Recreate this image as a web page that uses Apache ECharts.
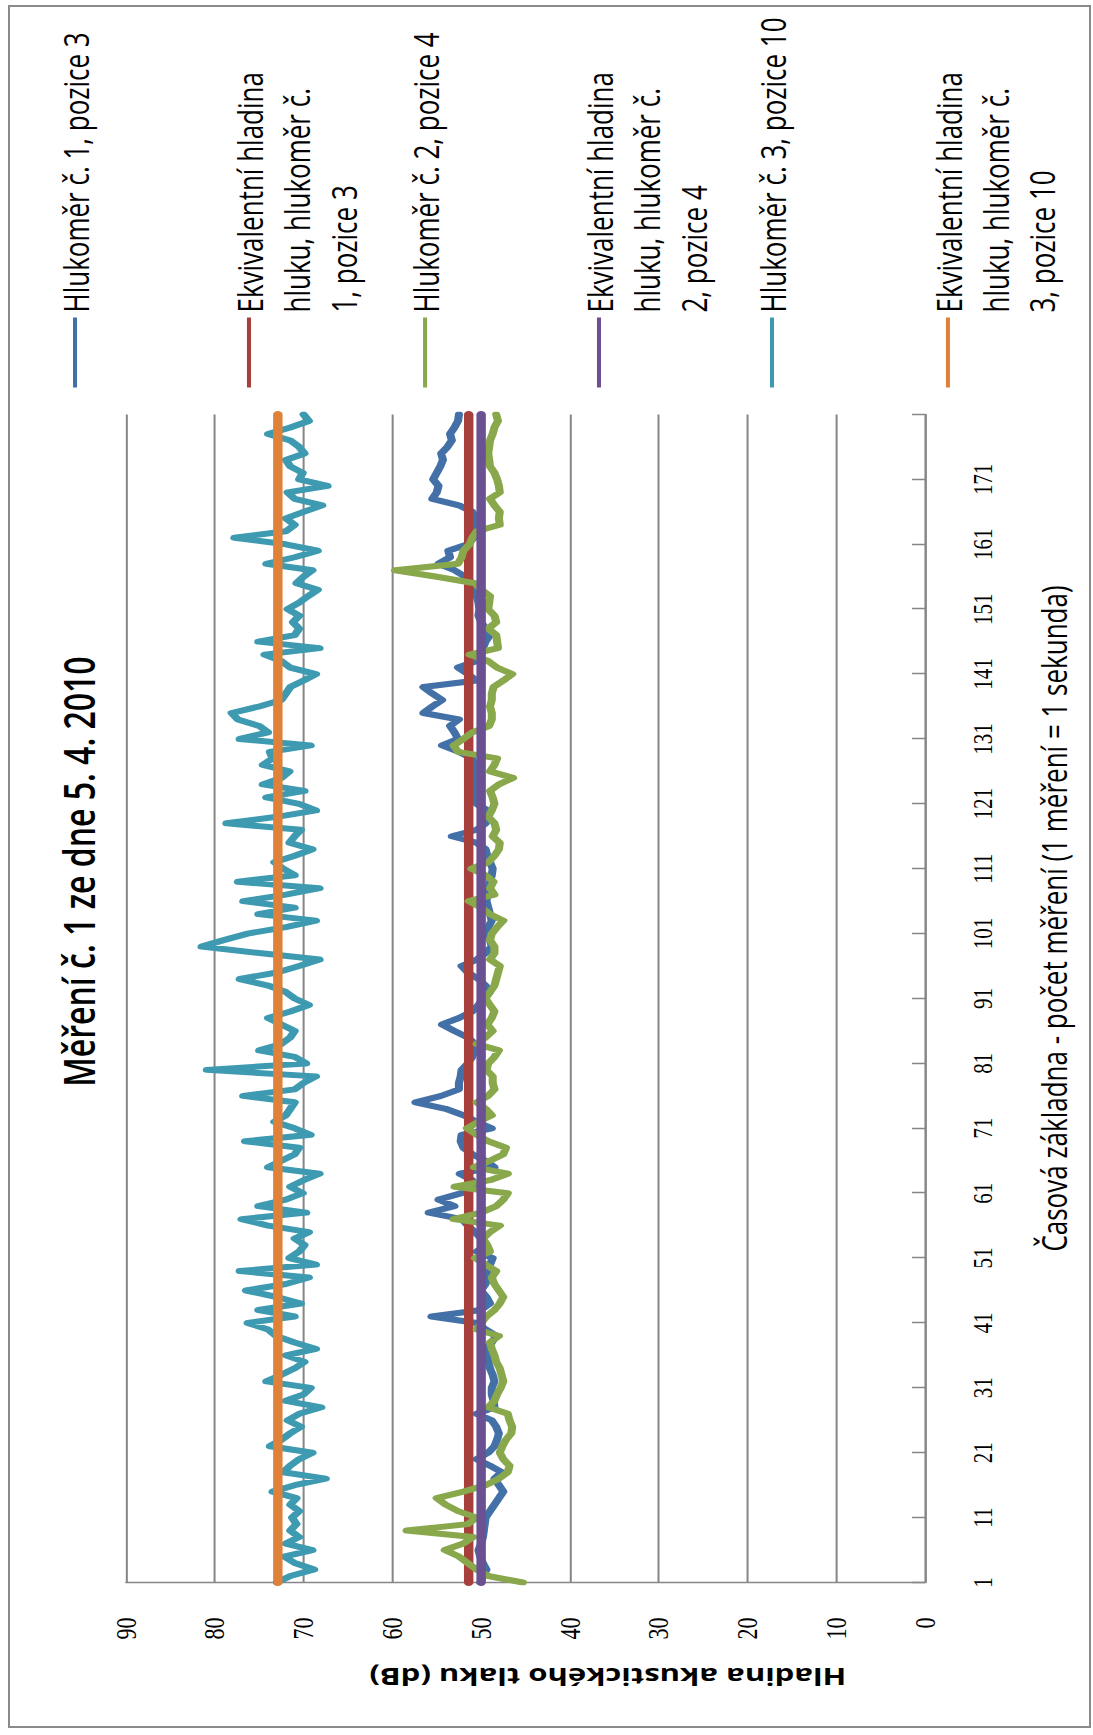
<!DOCTYPE html>
<html>
<head>
<meta charset="utf-8">
<script src="https://cdn.jsdelivr.net/npm/echarts@6/dist/echarts.min.js"></script>
<style>
html,body{margin:0;padding:0;background:#fff;overflow:hidden;width:1093px;height:1735px;}
#frame{position:absolute;left:8px;top:5px;width:1079px;height:1719px;border:2px solid #8a8a8a;z-index:5;pointer-events:none;background:transparent;}
#chart{position:absolute;left:-321px;top:462.5px;width:1735px;height:810px;transform-origin:50% 50%;transform:rotate(-90deg) scaleY(1.34938);z-index:1;}
</style>
</head>
<body>
<div id="chart"></div>
<div id="frame"></div>
<script>
// ---- data ----
const categories = Array.from({length: 181}, (_, i) => String(i + 1));

const hlukomer1 = [
 50.1,49.8,49.4,49.8,50.1,50.3,50,49.8,49.7,49.6,49.5,49,48.5,48,47.5,48,48.5,47.7,49,50.5,
 49.2,48.5,48.2,48,48.3,48.8,50.5,48.5,48.6,48.8,48.8,48.5,48.7,49,49.2,49.3,49.4,48.8,48.3,49.5,
 50.5,55.6,50,49,49.4,50,
 49.5,49.3,49.2,49,48.7,50.5,49.5,50,50.7,51.5,52.2,55.9,53,54.8,52.2,50.7,51,52.4,48.5,49.5,
 51,52,52.3,52.2,48.8,50.5,52,54,57.4,54.5,52.5,52.5,52.3,52.2,51.5,51,50.8,50.7,51.5,53,
 54.4,52.5,51,50.3,
 49.8,49,49.5,50.3,51.5,52.2,50.5,49.5,48.8,49,49.3,49.2,48.8,49,49.2,49.4,49.3,49.2,49,48.8,
 48.7,49,49.3,49.5,50.5,53.3,50.5,49.5,49.2,49.3,50.5,50.6,50.7,50.7,50.6,50.7,50.8,51,52.5,54.4,
 52.6,53,53.5,52.5,
 56.5,55.5,54.4,55.5,56.5,50.5,51.5,52.6,50.5,50,49.8,49.5,49,49.5,50,50.3,50.2,50.3,50.5,50.6,
 51,51.8,53,54.8,53.5,53.7,51.5,50.8,50.5,50.5,50.6,51,52.5,55.5,55,54.8,55.4,55,54.6,54.3,
 54.5,53.8,53.3,53.5,53,52.6,52.5
];
const hlukomer2 = [
 45.3,49.2,50.5,51.5,52.5,54.1,52,50.9,58.4,51.5,50.5,52.6,54,55,52,49.5,48,47,46.8,47.5,
 47.9,47.6,47.2,46.6,46.5,46.8,47,49.2,48.5,48.2,47.8,47.5,47.7,47.9,48.3,48.5,48.8,49,48,50.5,
 50,49.4,48.5,47.9,47.5,48,
 48.5,48.8,48.3,49.5,50.7,49,49.3,49.8,49,47.9,53.1,50,48.3,47.5,47,53,49,47,50.8,49,
 47.5,47.2,49.2,50.5,51.6,50.3,48.8,49.5,50.5,49.2,48.5,48.7,48.7,49.4,49.2,48.5,48,50.5,49.5,48.7,
 49.3,48.8,48.5,49,
 49.5,49,48.5,48.3,48.1,47.9,49,48.5,48.5,49,48.8,48.2,47.5,49,50,51.4,48.5,49,48.6,49.5,
 51.1,49.2,48.5,48,47.9,48.7,48.3,48.5,49.2,48.8,48.5,48.7,49,48,46.4,49,48.5,48.2,52.6,53.1,
 52,51,49.1,48.8,
 48.8,49,48.8,48.8,48.6,47.5,46.5,48.2,49.2,51.3,48.1,48.2,48.3,49.2,48.3,48.5,49.2,49.1,49,50,
 50.7,55,59.7,52.6,52.2,52,51.3,51,50.5,47.9,48,47.9,48.5,49,47.9,48,48.2,48.5,49,49.1,
 49.2,49.1,49,48.7,48.5,48.1,48.3
];
const hlukomer3 = [
 73,71.5,68.8,71,72.2,69,72,70.5,71.5,70.8,71.3,70.5,71.5,70.8,73.5,71,67.5,72.3,71.5,70.5,
 69,73.8,72.5,71.5,70.3,71.8,70.5,68,72,70,69.2,74.2,72.5,71,69.9,72,68.6,71,73.1,74,
 76.3,71,75.1,70.3,73,76.5,
 72,69.4,77.2,68.6,71.6,70.5,69.9,71,69.4,74,77,69.7,75.1,72,70.1,71.5,70,68.2,74,72.5,
 71,70.5,76.6,69.2,71,73.3,72,71.5,71,76.8,71,70,68.6,80.9,69.7,71,75,72.5,71.5,71,
 72.5,74,71.5,69.4,
 71,72,74,77.2,73,70.5,68.2,75,81.5,79,76.3,72,68.6,75.1,71,76.8,72,68.2,77.4,71,
 72.3,73.3,71,69,71.6,71,70.3,78.7,73,68.6,70.5,74.2,69.9,74.6,72.5,71.6,74.6,73.5,73.8,69.2,
 77.2,74,75,77.4,
 78.1,75,72.5,72,71.5,70,68.6,71.5,72.5,74.4,68.2,75.1,71,70.5,71.2,70.5,71.8,70.5,69.5,68.4,
 70.8,70,69,74.2,71,68.4,72,77.8,72,71,72,70,67.9,71,71.8,67.3,70.5,70.1,71.5,72,
 69.9,70.5,71.5,74,71.5,69.4,70
];
// equivalent (constant) noise levels, dB
const leq1 = 51.4;
const leq2 = 50.0;
const leq3 = 72.9;
const ekv1 = new Array(categories.length).fill(leq1);
const ekv2 = new Array(categories.length).fill(leq2);
const ekv3 = new Array(categories.length).fill(leq3);

const seriesNames = [
 'Hlukoměr č. 1, pozice 3',
 'Ekvivalentní hladina hluku, hlukoměr č. 1, pozice 3',
 'Hlukoměr č. 2, pozice 4',
 'Ekvivalentní hladina hluku, hlukoměr č. 2, pozice 4',
 'Hlukoměr č. 3, pozice 10',
 'Ekvivalentní hladina hluku, hlukoměr č. 3, pozice 10'
];
const legendLines = [
 ['Hlukoměr č. 1, pozice 3'],
 ['Ekvivalentní hladina', 'hluku, hlukoměr č.', '1, pozice 3'],
 ['Hlukoměr č. 2, pozice 4'],
 ['Ekvivalentní hladina', 'hluku, hlukoměr č.', '2, pozice 4'],
 ['Hlukoměr č. 3, pozice 10'],
 ['Ekvivalentní hladina', 'hluku, hlukoměr č.', '3, pozice 10']
];
const seriesData = [hlukomer1, ekv1, hlukomer2, ekv2, hlukomer3, ekv3];

// ---- styles ----
const colors = ['#4470A8', '#A73F3D', '#89A84B', '#6B5192', '#3E9AB1', '#DF8139'];
const widths = [6, 7, 6, 7, 6, 7];
const legendCenters = [55.6, 184.5, 315, 443.9, 572.1, 702.5];
const LH = 34.8;
const axisGrey = '#868686';

const chart = echarts.init(document.getElementById('chart'), null, {renderer: 'svg'});

const legends = seriesNames.map((n, i) => {
  const lines = legendLines[i];
  const multi = lines.length > 1;
  // two blank lines first so the first real line sits at the marker (centre line)
  const label = multi ? ['', ''].concat(lines).join('\n') : lines[0];
  return {
    data: [n],
    orient: 'vertical',
    left: 1348,
    top: multi ? legendCenters[i] - 2.5 * LH : legendCenters[i] - LH / 2,
    padding: 0,
    icon: 'rect',
    itemWidth: 70,
    itemHeight: 3,
    selectedMode: false,
    formatter: () => label,
    textStyle: {fontFamily: 'Open Sans', fontSize: 26, lineHeight: LH, color: '#000'}
  };
});

const option = {
  animation: false,
  backgroundColor: '#fff',
  title: {
    text: 'Měření č. 1 ze dne 5. 4. 2010',
    left: 864, top: 42, textAlign: 'center', padding: 0,
    textStyle: {fontFamily: 'Open Sans', fontWeight: 600, fontSize: 32, color: '#000'}
  },
  grid: {left: 153, right: 414, top: 93.4, bottom: 124.5, containLabel: false},
  legend: legends,
  xAxis: {
    type: 'category', data: categories, boundaryGap: false,
    axisLine: {lineStyle: {color: axisGrey, width: 1.5}},
    axisTick: {inside: true, length: 9.6, interval: (i) => i % 10 === 0, lineStyle: {color: axisGrey, width: 1.5}},
    axisLabel: {interval: (i) => i % 10 === 0 && i < 180, margin: 32, fontFamily: 'Liberation Serif', fontSize: 21, color: '#000'},
    splitLine: {show: false},
    name: 'Časová základna - počet měření (1 měření = 1 sekunda)',
    nameLocation: 'middle', nameGap: 82,
    nameTextStyle: {fontFamily: 'Open Sans', fontSize: 26, color: '#000', padding: [0, 0, 0, 160]}
  },
  yAxis: {
    type: 'value', min: 0, max: 90, interval: 10,
    axisLine: {show: true, lineStyle: {color: axisGrey, width: 1.5}},
    axisTick: {show: false},
    splitLine: {lineStyle: {color: axisGrey, width: 1.5}},
    axisLabel: {margin: 35, fontFamily: 'Liberation Serif', fontSize: 22, color: '#000'},
    name: 'Hladina akustického tlaku (dB)',
    nameLocation: 'middle', nameGap: 83,
    nameTextStyle: {fontFamily: 'Open Sans', fontWeight: 'bold', fontSize: 23, color: '#000', padding: [0, 122, 0, 0]}
  },
  series: seriesNames.map((n, i) => ({
    name: n, type: 'line', data: seriesData[i], symbol: 'none', silent: true,
    color: colors[i],
    lineStyle: {color: colors[i], width: widths[i], join: 'round', cap: 'round'}
  }))
};
chart.setOption(option);
</script>
</body>
</html>
